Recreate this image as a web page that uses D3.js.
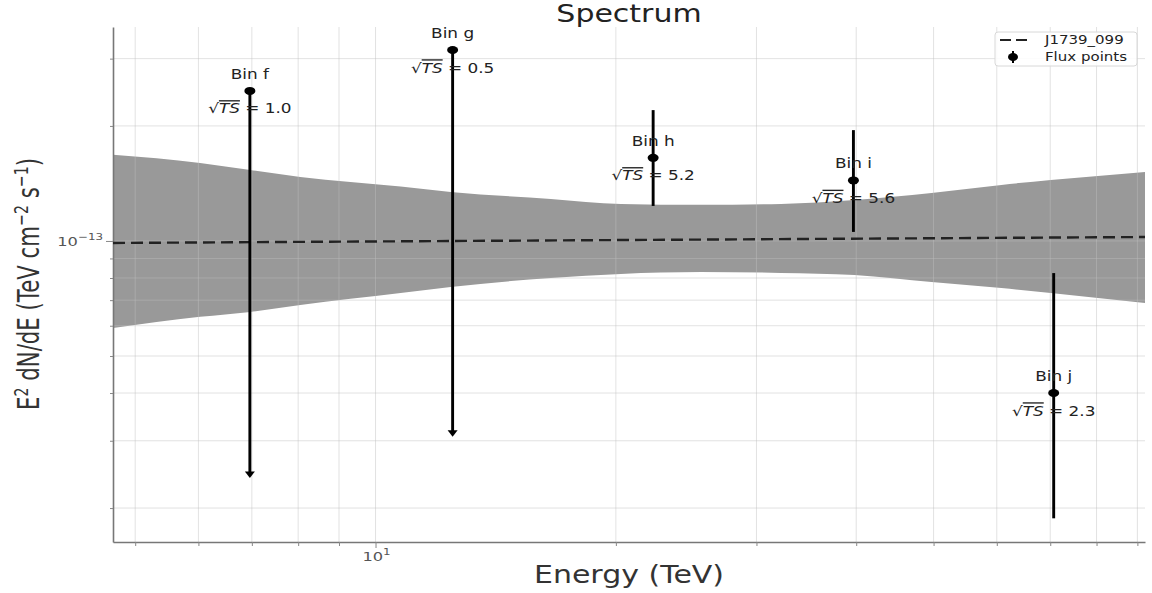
<!DOCTYPE html>
<html>
<head>
<meta charset="utf-8">
<script src="https://cdn.jsdelivr.net/npm/d3@7"></script>
<style>
  html, body { margin: 0; padding: 0; background: #fff; }
  svg { display: block; font-family: "DejaVu Sans", sans-serif; }
</style>
</head>
<body>
<svg id="chart" width="1152" height="593"></svg>
<script>
// ---- Model band (E in TeV, E^2 dN/dE in TeV cm^-2 s^-1) ----
const bandEnergy = [4.69, 6.03, 6.97, 8.05, 10.75, 12.42, 16.58, 20.29, 25.57, 32.2, 39.8, 49.7, 60.8, 70.1, 92];
const bandUpper  = [1.680e-13, 1.600e-13, 1.534e-13, 1.471e-13, 1.389e-13, 1.344e-13, 1.288e-13, 1.250e-13, 1.243e-13, 1.250e-13, 1.280e-13, 1.336e-13, 1.402e-13, 1.444e-13, 1.516e-13];
const bandLower  = [0.592e-13, 0.633e-13, 0.652e-13, 0.680e-13, 0.731e-13, 0.758e-13, 0.800e-13, 0.820e-13, 0.829e-13, 0.825e-13, 0.815e-13, 0.781e-13, 0.753e-13, 0.731e-13, 0.688e-13];

// ---- Best-fit model line J1739_099 ----
const modelEnergy = [4.69, 92];
const modelFlux   = [0.988e-13, 1.024e-13];

// ---- Flux points ----
const binNames   = ["Bin f", "Bin g", "Bin h", "Bin i", "Bin j"];
const binEnergy  = [6.96, 12.49, 22.27, 39.68, 70.7];
const binFlux    = [2.47e-13, 3.16e-13, 1.65e-13, 1.44e-13, 0.40e-13];
const binFluxHi  = [2.47e-13, 3.16e-13, 2.20e-13, 1.95e-13, 0.824e-13];
const binFluxLo  = [0.241e-13, 0.309e-13, 1.235e-13, 1.056e-13, 0.188e-13];
const binIsUL    = [true, true, false, false, false];
const binSqrtTS  = ["1.0", "0.5", "5.2", "5.6", "2.3"];

// ---- Axes ----
const xDomain = [4.69, 92];
const yDomain = [1.63e-14, 3.63e-13];
const xGridTicks = [5, 6, 7, 8, 9, 10, 20, 30, 40, 50, 60, 70, 80, 90];
const yGridTicks = [2e-14, 3e-14, 4e-14, 5e-14, 6e-14, 7e-14, 8e-14, 9e-14, 1e-13, 2e-13, 3e-13];
const xMajorTicks = [10];
const yMajorTicks = [1e-13];

const SX = 1.25; // horizontal text stretch
const plot = { left: 113, right: 1145, top: 27, bottom: 542 };

const svg = d3.select("#chart");
const x = d3.scaleLog().domain(xDomain).range([plot.left, plot.right]);
const y = d3.scaleLog().domain(yDomain).range([plot.bottom, plot.top]);

function stext(parent, px, py, anchor, size, transformExtra) {
  const g = parent.append("g")
    .attr("transform", `translate(${px},${py}) scale(${SX},1)` + (transformExtra || ""));
  return g.append("text")
    .attr("text-anchor", anchor)
    .style("font-size", size + "px");
}

// Band
const area = d3.area()
  .x((d, i) => x(bandEnergy[i]))
  .y0((d, i) => y(bandLower[i]))
  .y1((d, i) => y(bandUpper[i]))
  .curve(d3.curveMonotoneX);
svg.append("path")
  .attr("d", area(bandEnergy))
  .attr("fill", "#999999");

// Grid
const grid = svg.append("g").attr("stroke", "rgb(190,190,190)").attr("stroke-opacity", 0.45).attr("stroke-width", 1);
grid.selectAll("line.vx").data(xGridTicks).join("line")
  .attr("x1", d => x(d)).attr("x2", d => x(d))
  .attr("y1", plot.top).attr("y2", plot.bottom);
grid.selectAll("line.hy").data(yGridTicks).join("line")
  .attr("x1", plot.left).attr("x2", plot.right)
  .attr("y1", d => y(d)).attr("y2", d => y(d));

// Axes via d3 axis generators (ticks only; labels drawn with superscripts)
const xAxis = d3.axisBottom(x).tickValues(xGridTicks).tickFormat("").tickSize(5).tickSizeOuter(0);
const gx = svg.append("g").attr("transform", `translate(0,${plot.bottom})`).call(xAxis);
gx.selectAll(".tick line").attr("stroke", "#888").attr("stroke-width", 1)
  .attr("y2", d => xMajorTicks.includes(d) ? 6 : 4);
gx.select(".domain").attr("stroke", "#777").attr("stroke-width", 1.6);

const yAxis = d3.axisLeft(y).tickValues(yGridTicks).tickFormat("").tickSize(4).tickSizeOuter(0);
const gy = svg.append("g").attr("transform", `translate(${plot.left},0)`).call(yAxis);
gy.selectAll(".tick line").attr("stroke", "#888").attr("stroke-width", 1)
  .attr("x2", d => yMajorTicks.includes(d) ? -7 : -3);
gy.select(".domain").attr("stroke", "#777").attr("stroke-width", 1.6);

// Tick labels with superscripts
xMajorTicks.forEach(v => {
  const t = stext(svg, x(v) + 1, plot.bottom + 19, "middle", 13).attr("fill", "#555");
  t.append("tspan").text("10");
  t.append("tspan").attr("dy", -6).style("font-size", "9.5px").text(String(Math.round(Math.log10(v))));
});
yMajorTicks.forEach(v => {
  const t = stext(svg, plot.left - 10, y(v) + 5, "end", 13).attr("fill", "#555");
  t.append("tspan").text("10");
  t.append("tspan").attr("dy", -6).style("font-size", "9.5px").text("\u2212" + Math.abs(Math.round(Math.log10(v))));
});

// Model line
const line = d3.line().x((d, i) => x(modelEnergy[i])).y((d, i) => y(modelFlux[i]));
svg.append("path")
  .attr("d", line(modelEnergy))
  .attr("fill", "none")
  .attr("stroke", "#222")
  .attr("stroke-width", 2.4)
  .attr("stroke-dasharray", "12,6");

// Flux points
const pts = svg.append("g");
binNames.forEach((name, i) => {
  const px = x(binEnergy[i]);
  const py = y(binFlux[i]);
  const yHi = y(binFluxHi[i]);
  const yLo = y(binFluxLo[i]);
  pts.append("line")
    .attr("x1", px).attr("x2", px)
    .attr("y1", yHi).attr("y2", binIsUL[i] ? yLo - 3 : yLo)
    .attr("stroke", "#000").attr("stroke-width", 2.9);
  if (binIsUL[i]) {
    pts.append("path")
      .attr("d", `M${px - 5},${yLo - 5.5}L${px + 5},${yLo - 5.5}L${px},${yLo + 1}Z`)
      .attr("fill", "#000");
  }
  pts.append("ellipse")
    .attr("cx", px).attr("cy", py).attr("rx", 5.5).attr("ry", 4)
    .attr("fill", "#000");

  // Annotations
  stext(pts, px, py - 12, "middle", 13.5).attr("fill", "#222").text(name);
  const t = stext(pts, px, py + 22.5, "middle", 13.5).attr("fill", "#222");
  t.append("tspan").text("\u221A");
  t.append("tspan").style("font-style", "italic").style("text-decoration", "overline").text("TS");
  t.append("tspan").text(" = " + binSqrtTS[i]);
});

// Title and axis labels
stext(svg, (plot.left + plot.right) / 2, 22, "middle", 24).attr("fill", "#222").text("Spectrum");
stext(svg, (plot.left + plot.right) / 2, 583, "middle", 24).attr("fill", "#333").text("Energy (TeV)");

const yl = stext(svg, 39, 284, "middle", 24, " rotate(-90)")
  .attr("fill", "#333")
  .attr("textLength", 252)
  .attr("lengthAdjust", "spacingAndGlyphs");
yl.append("tspan").text("E");
yl.append("tspan").attr("dy", -9).style("font-size", "16px").text("2");
yl.append("tspan").attr("dy", 9).text(" dN/dE (TeV cm");
yl.append("tspan").attr("dy", -9).style("font-size", "16px").text("\u22122");
yl.append("tspan").attr("dy", 9).text(" s");
yl.append("tspan").attr("dy", -9).style("font-size", "16px").text("\u22121");
yl.append("tspan").attr("dy", 9).text(")");

// Legend
const lg = svg.append("g");
lg.append("rect")
  .attr("x", 995).attr("y", 32).attr("width", 142).attr("height", 34).attr("rx", 3)
  .attr("fill", "#fff").attr("fill-opacity", 0.85)
  .attr("stroke", "#d8d8d8").attr("stroke-width", 1);
lg.append("line")
  .attr("x1", 1000).attr("x2", 1027).attr("y1", 40).attr("y2", 40)
  .attr("stroke", "#222").attr("stroke-width", 2.2).attr("stroke-dasharray", "11,5");
stext(lg, 1045, 44, "start", 12).attr("fill", "#222").text("J1739_099");
lg.append("line").attr("x1", 1013).attr("x2", 1013).attr("y1", 51).attr("y2", 63)
  .attr("stroke", "#000").attr("stroke-width", 2);
lg.append("ellipse").attr("cx", 1013).attr("cy", 57).attr("rx", 5).attr("ry", 4).attr("fill", "#000");
stext(lg, 1045, 61, "start", 12).attr("fill", "#222").text("Flux points");
</script>
</body>
</html>
